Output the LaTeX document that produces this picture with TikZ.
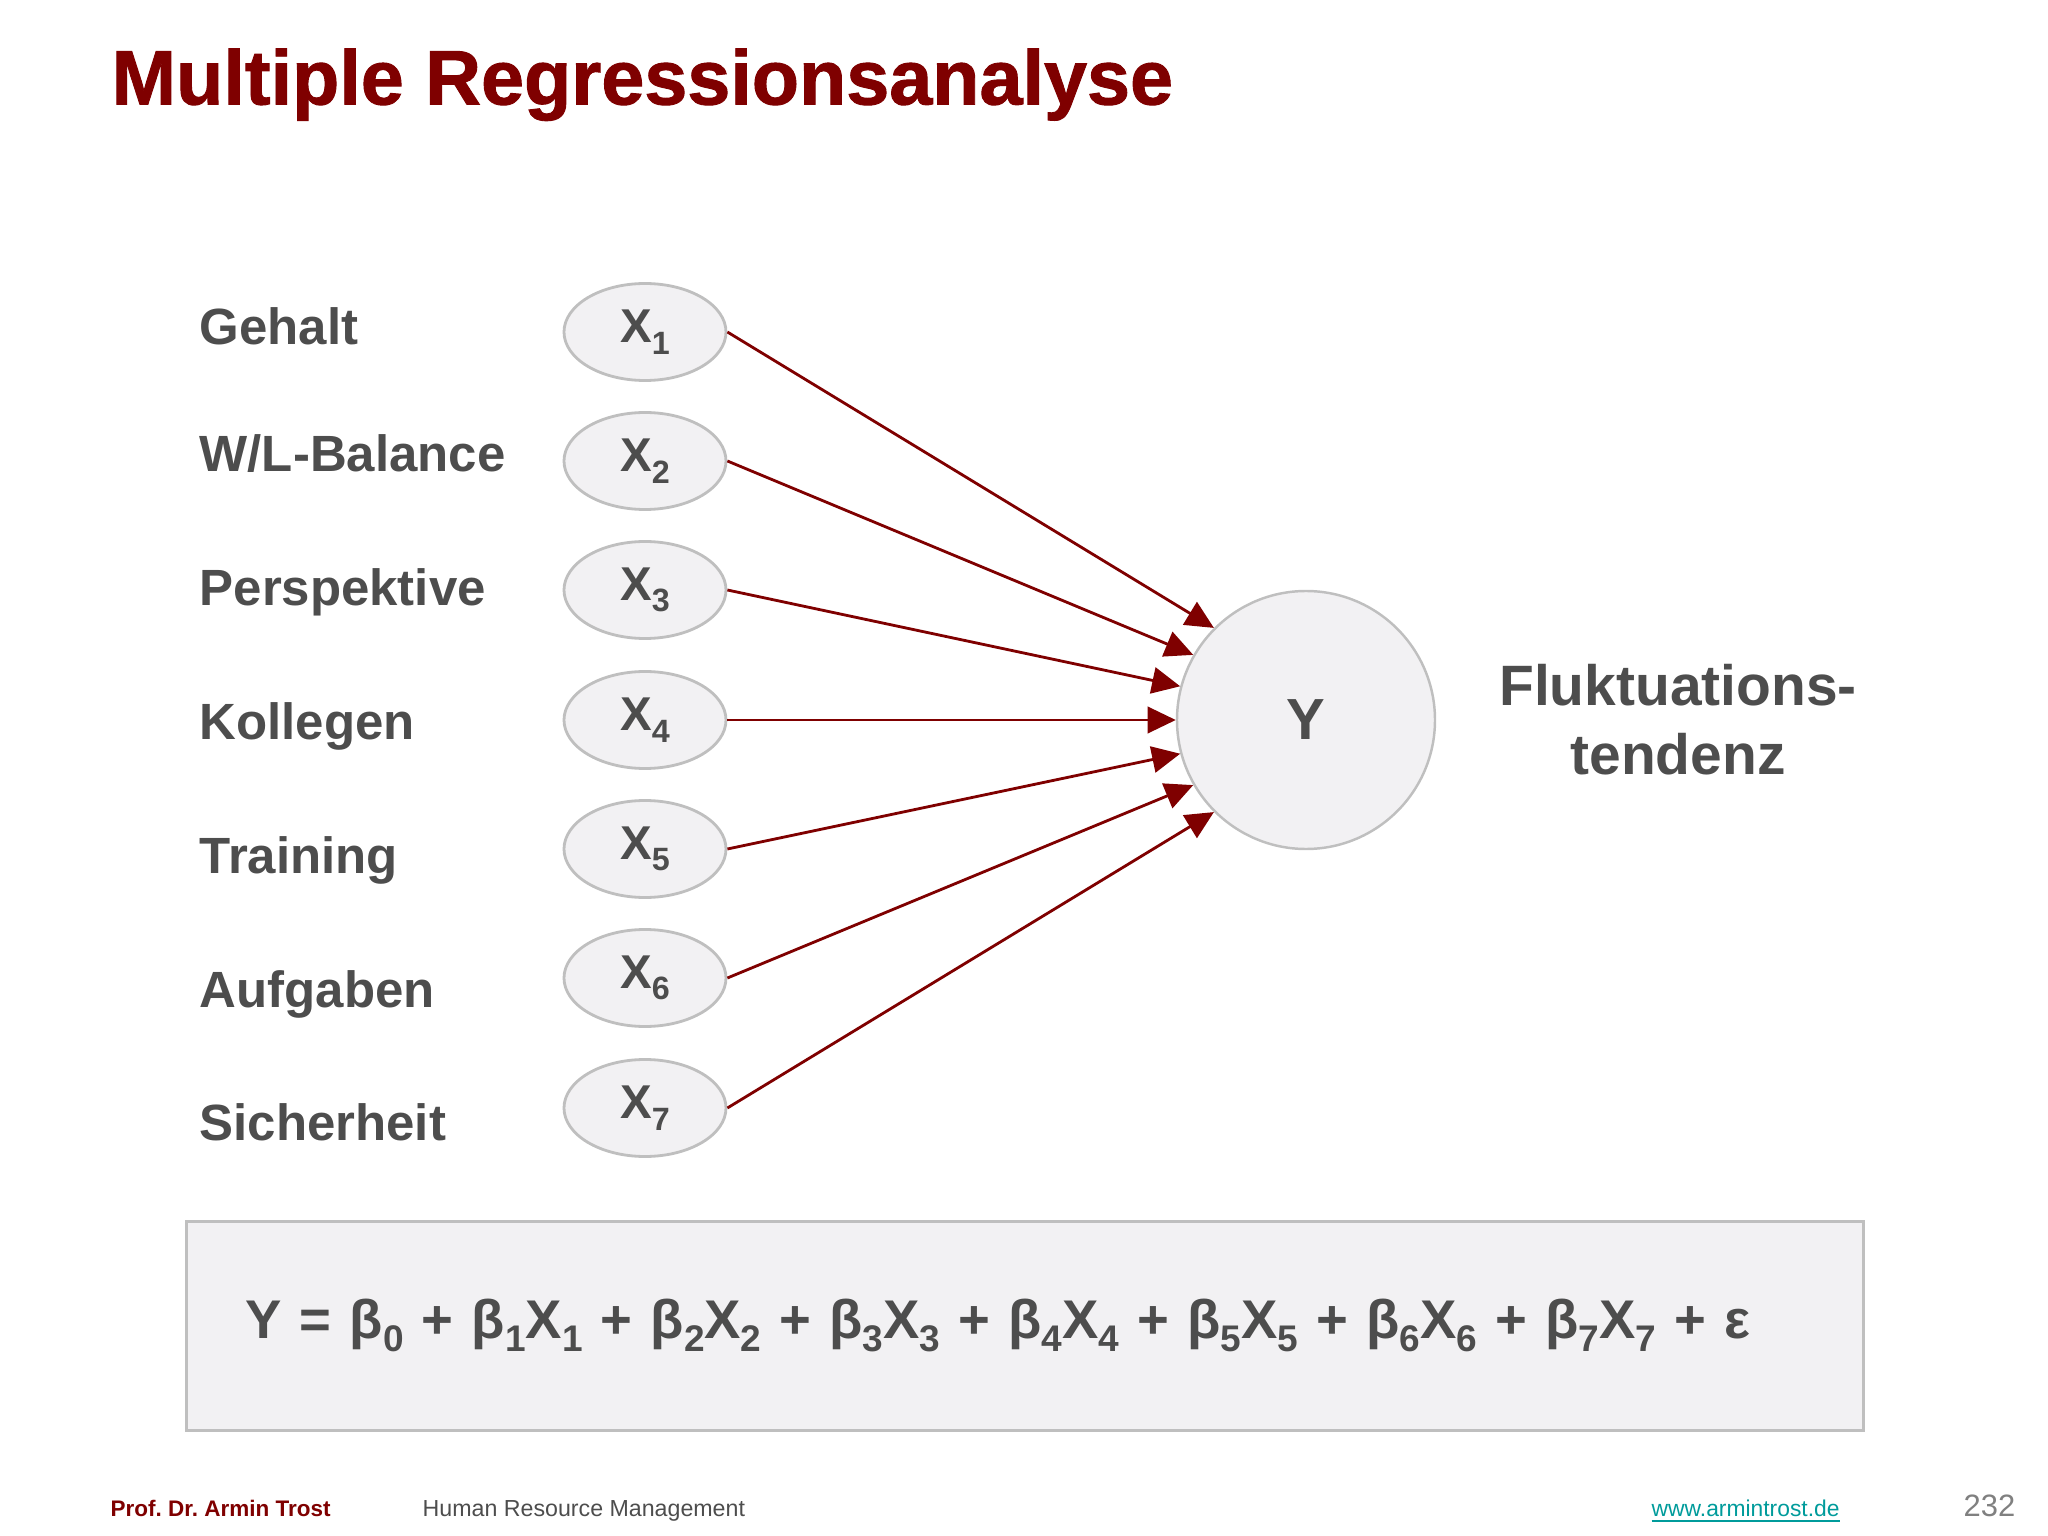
\documentclass[tikz,border=0pt]{standalone}
\usepackage{graphicx}
\usepackage{fontspec}
\setmainfont{Liberation Sans}
\usetikzlibrary{arrows.meta,shapes.geometric}

\definecolor{darkred}{HTML}{7F0000}
\definecolor{txtgray}{HTML}{4D4D4D}
\definecolor{fillgray}{HTML}{F2F1F3}
\definecolor{linegray}{HTML}{BFBFBF}
\definecolor{linkteal}{HTML}{009B9B}

\frenchspacing
% subscript set lower, as on the slide
\newcommand{\lowsub}[1]{\raisebox{-0.24em}{\scalebox{0.68}{#1}}}

\begin{document}
\begin{tikzpicture}[
        var/.style={ellipse, draw=linegray, fill=fillgray, line width=0.8pt,
            minimum width=1.62cm, minimum height=0.97cm, inner sep=0pt,
            text=txtgray, font=\fontsize{13.5}{15}\selectfont\bfseries},
        lab/.style={anchor=base west, inner sep=0pt, text=txtgray,
            font=\fontsize{14.5}{17}\selectfont\bfseries},
        arr/.style={-{Triangle[length=8pt,width=7.5pt]}, draw=darkred, line width=0.8pt}
    ]
        \useasboundingbox (0,0) rectangle (20.48,-15.36);

        % the title
        \node (title) [anchor=base west, inner sep=0pt, text=darkred,
            font=\fontsize{22}{26}\selectfont\bfseries\addfontfeature{FakeBold=1.2}] at (1.11,-1.045) {Multiple Regressionsanalyse};

        % the names of the predictors
        \node (n1) [lab] at (1.99,-3.45) {Gehalt};
        \node (n2) [lab] at (1.99,-4.714) {W/L-Balance};
        \node (n3) [lab] at (1.99,-6.059) {Perspektive};
        \node (n4) [lab] at (1.99,-7.393) {Kollegen};
        \node (n5) [lab] at (1.99,-8.737) {Training};
        \node (n6) [lab] at (1.99,-10.07) {Aufgaben};
        \node (n7) [lab] at (1.99,-11.402) {Sicherheit};

        % the variables
        \node (x1) [var] at (6.45,-3.32) {X\lowsub{1}};
        \node (x2) [var] at (6.45,-4.61) {X\lowsub{2}};
        \node (x3) [var] at (6.45,-5.90) {X\lowsub{3}};
        \node (x4) [var] at (6.45,-7.20) {X\lowsub{4}};
        \node (x5) [var] at (6.45,-8.49) {X\lowsub{5}};
        \node (x6) [var] at (6.45,-9.78) {X\lowsub{6}};
        \node (x7) [var] at (6.45,-11.08) {X\lowsub{7}};

        % the dependent variable
        \node (y) [circle, draw=linegray, fill=fillgray, line width=0.7pt, minimum size=2.58cm,
            text=txtgray, font=\fontsize{16.5}{19}\selectfont\bfseries] at (13.06,-7.20) {Y};
        \node (yname) [align=center, text=txtgray,
            font=\fontsize{16.2}{19.6}\selectfont\bfseries] at (16.78,-7.20) {Fluktuations-\\tendenz};

        % draw the arrows
        \draw[arr] (x1.east) -- (y.135);
        \draw[arr] (x2.east) -- (y.150);
        \draw[arr] (x3.east) -- (y.165);
        \draw[arr] (x4.east) -- (y.180);
        \draw[arr] (x5.east) -- (y.195);
        \draw[arr] (x6.east) -- (y.210);
        \draw[arr] (x7.east) -- (y.225);

        % the equation
        \node (eq) [anchor=north west, draw=linegray, fill=fillgray, line width=0.8pt,
            text width=15.59cm, inner xsep=0.59cm, inner ysep=0pt, minimum height=2.09cm,
            align=left, text=txtgray, font=\fontsize{15.5}{18}\selectfont\bfseries] at (1.85,-12.20)
            {Y = β\lowsub{0} + β\lowsub{1}X\lowsub{1} + β\lowsub{2}X\lowsub{2}
            + β\lowsub{3}X\lowsub{3} + β\lowsub{4}X\lowsub{4}
            + β\lowsub{5}X\lowsub{5} + β\lowsub{6}X\lowsub{6}
            + β\lowsub{7}X\lowsub{7} + ε};

        % the footer
        \node (prof) [anchor=base west, inner sep=0pt, text=darkred,
            font=\fontsize{6.4}{8}\selectfont\bfseries] at (1.10,-15.16) {Prof. Dr. Armin Trost};
        \node (hrm) [anchor=base west, inner sep=0pt, text=txtgray,
            font=\fontsize{6.6}{8}\selectfont] at (4.22,-15.16) {Human Resource Management};
        \node (www) [anchor=base west, inner sep=0pt, text=linkteal,
            font=\fontsize{6.5}{8}\selectfont] at (16.51,-15.16) {\underline{www.armintrost.de}};
        \node (page) [anchor=base west, inner sep=0pt, text=gray,
            font=\fontsize{8.8}{11}\selectfont] at (19.63,-15.16) {232};

    \end{tikzpicture}
\end{document}
